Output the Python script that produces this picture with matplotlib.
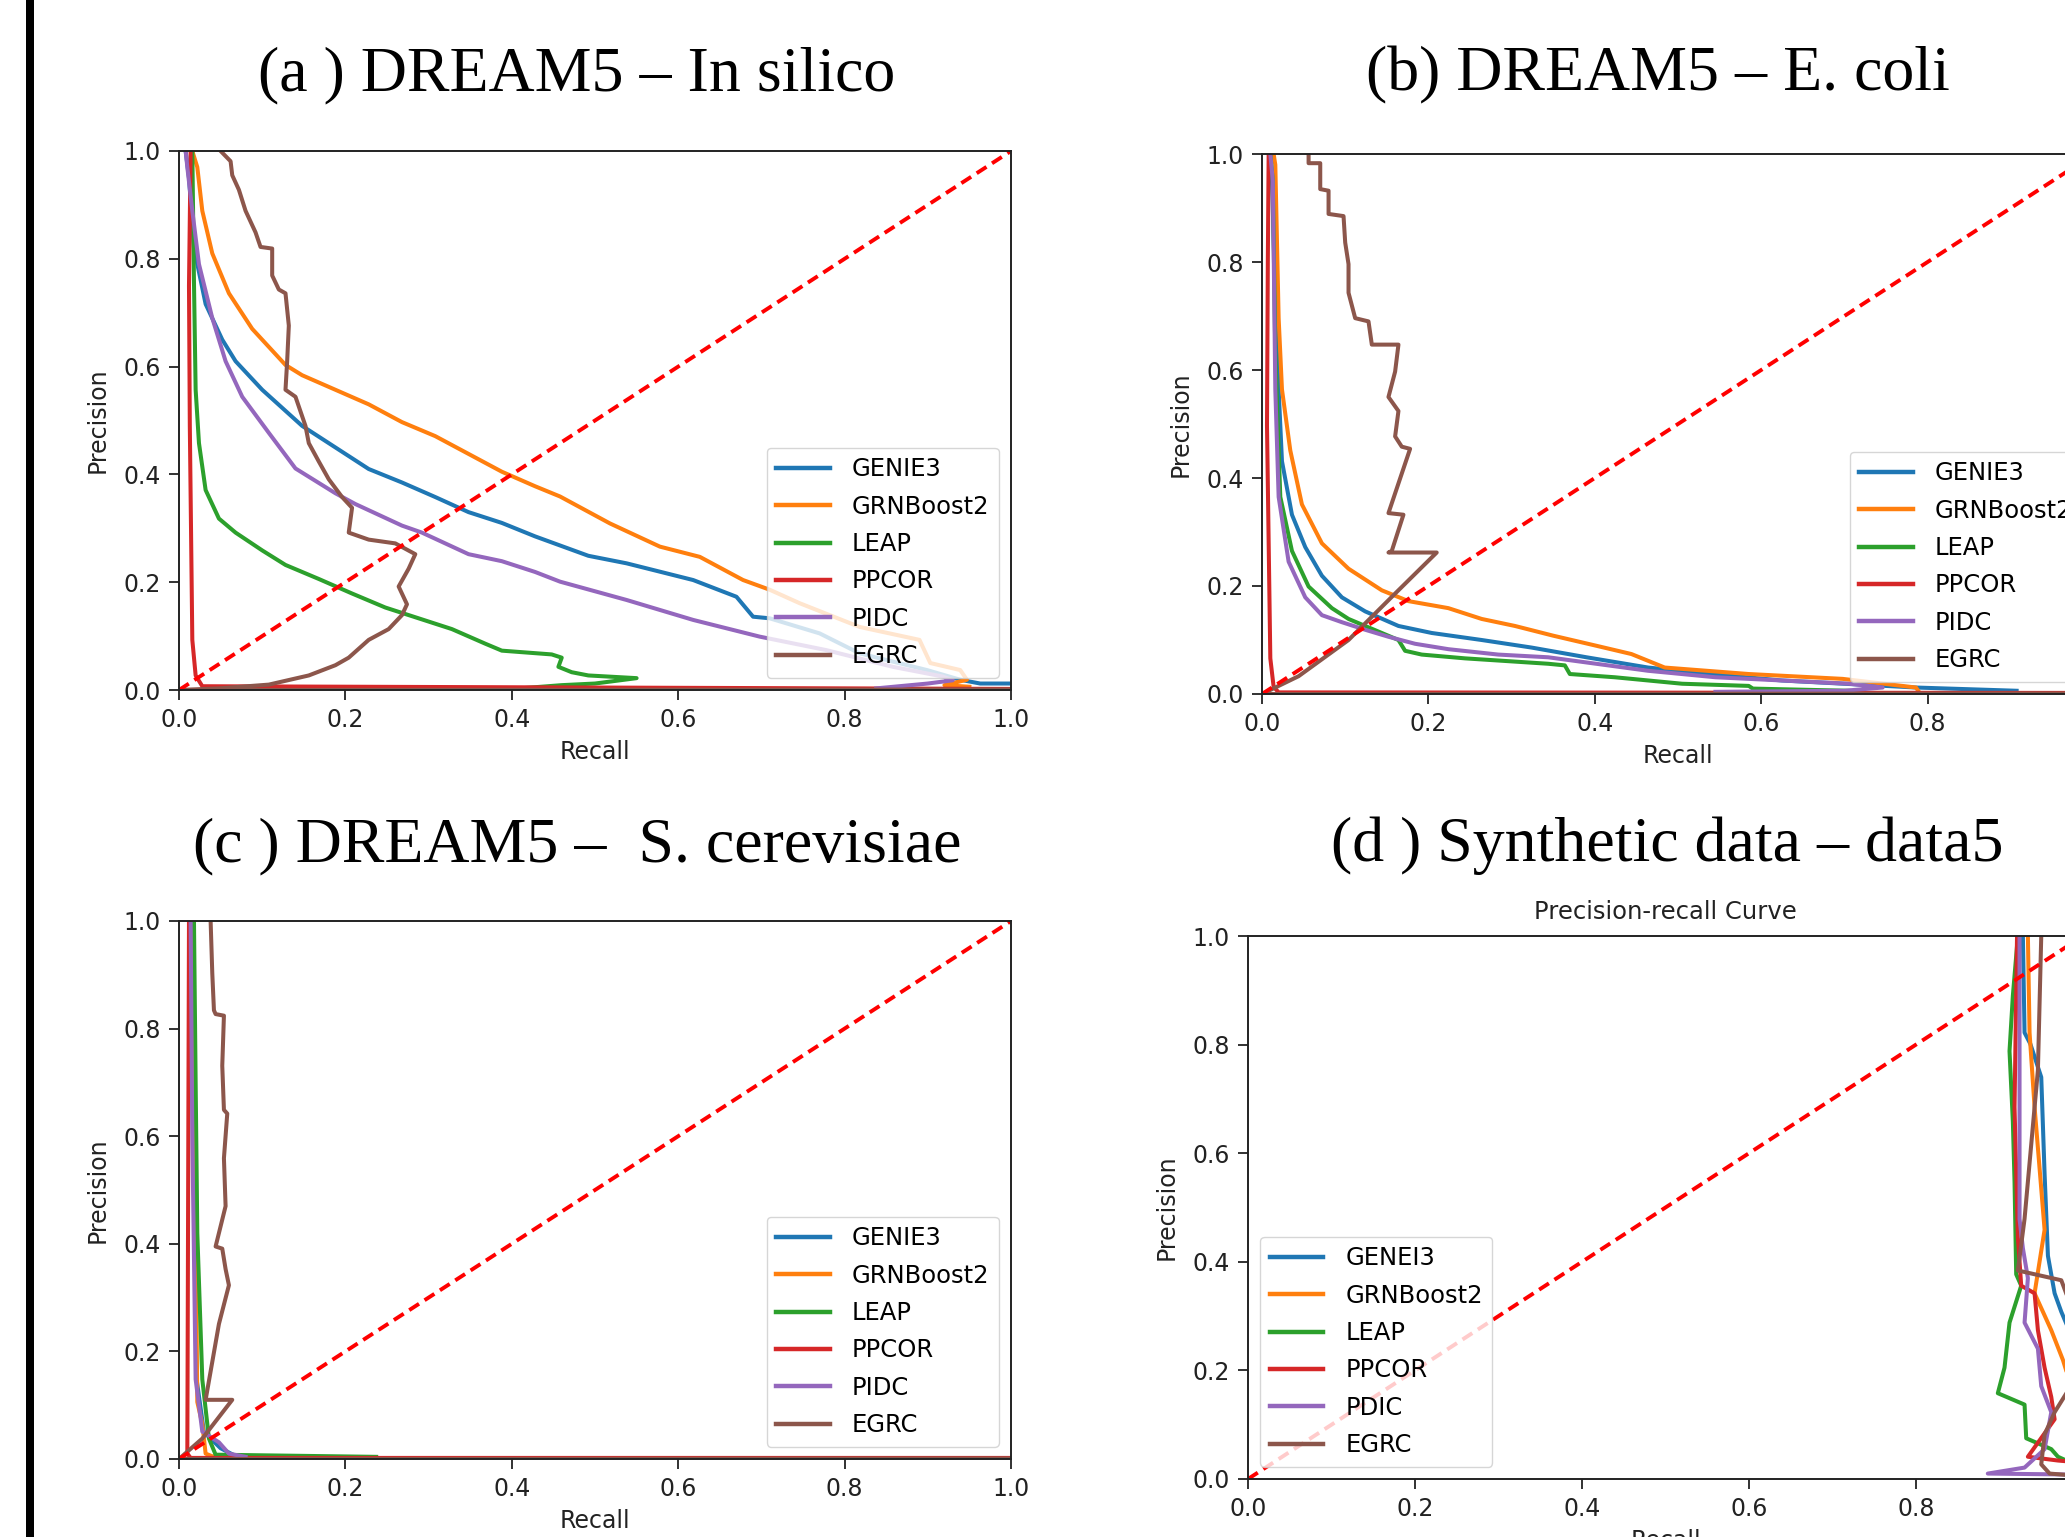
import matplotlib
matplotlib.use("Agg")
import matplotlib.pyplot as plt
from matplotlib.patches import Rectangle

W, H = 2065, 1537

methods = ["GENIE3", "GRNBoost2", "LEAP", "PPCOR", "PIDC", "EGRC"]
methods_d = ["GENEI3", "GRNBoost2", "LEAP", "PPCOR", "PDIC", "EGRC"]
colors = ["tab:blue", "tab:orange", "tab:green", "tab:red", "tab:purple", "tab:brown"]

titles = ["(a ) DREAM5 \u2013 In silico", "(b) DREAM5 \u2013 E. coli",
          "(c ) DREAM5 \u2013  S. cerevisiae", "(d ) Synthetic data \u2013 data5"]

# ---- (a) DREAM5 in silico: (recall, precision) ----
a_genie3 = ([0.008, 0.012, 0.018, 0.032, 0.052, 0.068, 0.10, 0.148, 0.188, 0.228, 0.268, 0.308, 0.348,
             0.388, 0.428, 0.492, 0.538, 0.618, 0.67, 0.69, 0.71, 0.77, 0.818, 0.899, 0.939, 0.963, 1.0],
            [1.0, 0.95, 0.82, 0.716, 0.65, 0.61, 0.557, 0.49, 0.45, 0.41, 0.385, 0.358, 0.33,
             0.31, 0.285, 0.249, 0.235, 0.204, 0.173, 0.136, 0.133, 0.105, 0.068, 0.037, 0.019, 0.012, 0.012])
a_grnboost2 = ([0.016, 0.022, 0.028, 0.04, 0.06, 0.088, 0.128, 0.148, 0.188, 0.228, 0.268, 0.308, 0.348,
                0.388, 0.428, 0.458, 0.518, 0.578, 0.626, 0.678, 0.71, 0.746, 0.818, 0.89, 0.903, 0.939,
                0.947, 0.92, 0.95],
               [1.0, 0.97, 0.889, 0.81, 0.736, 0.67, 0.603, 0.584, 0.557, 0.53, 0.497, 0.471, 0.438,
                0.405, 0.378, 0.359, 0.309, 0.266, 0.247, 0.204, 0.186, 0.161, 0.117, 0.093, 0.05, 0.037,
                0.019, 0.009, 0.006])
a_leap = ([0.016, 0.018, 0.02, 0.024, 0.032, 0.048, 0.068, 0.10, 0.128, 0.168, 0.208, 0.248, 0.288, 0.328,
           0.368, 0.388, 0.448, 0.46, 0.456, 0.472, 0.492, 0.55, 0.50, 0.46, 0.41],
          [1.0, 0.756, 0.557, 0.458, 0.371, 0.318, 0.292, 0.259, 0.232, 0.206, 0.179, 0.153, 0.133, 0.113,
           0.086, 0.073, 0.066, 0.06, 0.043, 0.033, 0.027, 0.022, 0.012, 0.009, 0.003])
a_ppcor = ([0.014, 0.012, 0.013, 0.016, 0.02, 0.028, 1.0],
           [1.0, 0.75, 0.49, 0.093, 0.027, 0.007, 0.002])
a_pidc = ([0.008, 0.01, 0.016, 0.024, 0.04, 0.056, 0.076, 0.108, 0.14, 0.188, 0.212, 0.268, 0.292, 0.348,
           0.388, 0.428, 0.458, 0.538, 0.618, 0.698, 0.778, 0.858, 0.918, 0.93, 0.90, 0.838],
          [1.0, 0.97, 0.889, 0.79, 0.69, 0.61, 0.544, 0.477, 0.411, 0.365, 0.345, 0.305, 0.292, 0.252,
           0.239, 0.219, 0.201, 0.167, 0.13, 0.099, 0.074, 0.043, 0.025, 0.018, 0.012, 0.003])
a_egrc = ([0.05, 0.062, 0.064, 0.072, 0.08, 0.092, 0.098, 0.112, 0.112, 0.12, 0.128, 0.132, 0.13, 0.128,
           0.14, 0.152, 0.156, 0.168, 0.18, 0.196, 0.208, 0.204, 0.228, 0.26, 0.284, 0.276, 0.264, 0.274,
           0.268, 0.252, 0.228, 0.204, 0.188, 0.156, 0.108, 0.048, 0.0, 1.0],
          [1.0, 0.981, 0.955, 0.928, 0.889, 0.849, 0.822, 0.819, 0.769, 0.743, 0.736, 0.676, 0.61, 0.557,
           0.544, 0.49, 0.458, 0.424, 0.391, 0.358, 0.338, 0.292, 0.279, 0.272, 0.252, 0.225, 0.192, 0.159,
           0.139, 0.113, 0.093, 0.06, 0.046, 0.027, 0.01, 0.003, 0.0, 0.001])

# ---- (b) DREAM5 E. coli ----
b_genie3 = ([0.01, 0.012, 0.018, 0.024, 0.036, 0.052, 0.072, 0.096, 0.124, 0.164, 0.204, 0.264, 0.324,
             0.39, 0.464, 0.54, 0.625, 0.786, 0.907],
            [1.0, 0.95, 0.63, 0.431, 0.332, 0.272, 0.219, 0.179, 0.153, 0.126, 0.113, 0.1, 0.086,
             0.068, 0.049, 0.037, 0.025, 0.012, 0.006])
b_grnboost2 = ([0.014, 0.016, 0.02, 0.024, 0.034, 0.048, 0.072, 0.104, 0.144, 0.176, 0.224, 0.264, 0.304,
                0.35, 0.40, 0.444, 0.484, 0.585, 0.698, 0.786, 0.79],
               [1.0, 0.98, 0.696, 0.564, 0.451, 0.351, 0.279, 0.232, 0.192, 0.172, 0.159, 0.139, 0.126,
                0.108, 0.09, 0.074, 0.049, 0.037, 0.028, 0.012, 0.003])
b_leap = ([0.01, 0.013, 0.016, 0.022, 0.036, 0.056, 0.084, 0.104, 0.144, 0.164, 0.172, 0.192, 0.244, 0.304,
           0.344, 0.364, 0.37, 0.424, 0.505, 0.585, 0.59, 0.706],
          [1.0, 0.95, 0.63, 0.365, 0.265, 0.199, 0.159, 0.139, 0.113, 0.1, 0.08, 0.073, 0.066, 0.06,
           0.056, 0.053, 0.037, 0.031, 0.019, 0.015, 0.01, 0.006])
b_ppcor = ([0.008, 0.007, 0.006, 0.01, 0.014, 0.02, 1.0],
           [1.0, 0.8, 0.497, 0.066, 0.013, 0.003, 0.002])
b_pidc = ([0.01, 0.013, 0.016, 0.02, 0.032, 0.052, 0.072, 0.096, 0.124, 0.152, 0.184, 0.224, 0.284, 0.344,
           0.464, 0.545, 0.706, 0.746, 0.70, 0.545],
          [1.0, 0.95, 0.564, 0.365, 0.245, 0.179, 0.146, 0.133, 0.119, 0.106, 0.093, 0.083, 0.073, 0.068,
           0.043, 0.031, 0.019, 0.012, 0.006, 0.004])
b_egrc = ([0.056, 0.056, 0.07, 0.07, 0.08, 0.08, 0.098, 0.1, 0.104, 0.104, 0.112, 0.128, 0.132, 0.164, 0.16,
           0.152, 0.164, 0.16, 0.168, 0.178, 0.152, 0.17, 0.156, 0.152, 0.21, 0.16, 0.104, 0.044, 0.0, 1.0],
          [1.0, 0.983, 0.983, 0.935, 0.932, 0.889, 0.885, 0.836, 0.796, 0.743, 0.696, 0.69, 0.647, 0.647,
           0.597, 0.55, 0.524, 0.477, 0.458, 0.454, 0.335, 0.332, 0.265, 0.262, 0.262, 0.186, 0.1, 0.033,
           0.0, 0.001])

# ---- (c) DREAM5 S. cerevisiae ----
c_genie3 = ([0.015, 0.017, 0.021, 0.03, 0.05, 0.07], [1.0, 0.6, 0.15, 0.05, 0.02, 0.004])
c_grnboost2 = ([0.017, 0.019, 0.022, 0.028, 0.032, 0.04, 0.14], [1.0, 0.6, 0.106, 0.065, 0.01, 0.005, 0.004])
c_leap = ([0.018, 0.02, 0.022, 0.028, 0.036, 0.044, 0.237], [1.0, 0.7, 0.42, 0.148, 0.038, 0.008, 0.004])
c_ppcor = ([0.012, 0.011, 0.01, 0.014, 1.0], [1.0, 0.5, 0.01, 0.002, 0.002])
c_pidc = ([0.014, 0.016, 0.02, 0.028, 0.048, 0.06, 0.08], [1.0, 0.6, 0.148, 0.051, 0.031, 0.01, 0.004])
c_egrc = ([0.038, 0.04, 0.042, 0.044, 0.054, 0.052, 0.054, 0.058, 0.054, 0.056, 0.044, 0.052, 0.056, 0.06,
           0.048, 0.032, 0.064, 0.028, 0.0, 1.0],
          [1.0, 0.903, 0.834, 0.827, 0.824, 0.731, 0.649, 0.642, 0.559, 0.47, 0.395, 0.391, 0.353, 0.323,
           0.251, 0.11, 0.11, 0.038, 0.0, 0.001])

# ---- (d) synthetic data5 ----
d_genie3 = ([0.928, 0.930, 0.937, 0.950, 0.954, 0.958, 0.966, 0.974, 0.99, 1.0],
            [1.0, 0.822, 0.801, 0.74, 0.562, 0.411, 0.342, 0.308, 0.25, 0.1])
d_grnboost2 = ([0.934, 0.936, 0.942, 0.954, 0.942, 0.962, 0.976, 1.0],
               [1.0, 0.822, 0.685, 0.459, 0.342, 0.274, 0.219, 0.1])
d_leap = ([0.922, 0.916, 0.912, 0.916, 0.918, 0.920, 0.926, 0.912, 0.906, 0.898, 0.930, 0.932, 0.962,
           0.970, 0.98, 1.0],
          [1.0, 0.89, 0.788, 0.658, 0.548, 0.377, 0.356, 0.288, 0.205, 0.158, 0.137, 0.075, 0.055,
           0.041, 0.034, 0.03])
d_ppcor = ([0.921, 0.918, 0.922, 0.926, 0.942, 0.946, 0.954, 0.962, 0.966, 0.934, 0.970, 1.0],
           [1.0, 0.685, 0.445, 0.356, 0.342, 0.274, 0.205, 0.151, 0.11, 0.041, 0.034, 0.03])
d_pidc = ([0.924, 0.924, 0.928, 0.934, 0.930, 0.946, 0.950, 0.962, 0.954, 0.930, 0.886, 1.0],
          [1.0, 0.479, 0.425, 0.37, 0.288, 0.24, 0.171, 0.123, 0.055, 0.021, 0.01, 0.008])
d_egrc = ([0.950, 0.946, 0.930, 0.922, 0.974, 0.99, 0.985, 0.966, 0.954, 0.950, 0.96, 1.0],
          [1.0, 0.753, 0.479, 0.384, 0.366, 0.3, 0.17, 0.123, 0.082, 0.027, 0.01, 0.005])

panel_curves = [
    [a_genie3, a_grnboost2, a_leap, a_ppcor, a_pidc, a_egrc],
    [b_genie3, b_grnboost2, b_leap, b_ppcor, b_pidc, b_egrc],
    [c_genie3, c_grnboost2, c_leap, c_ppcor, c_pidc, c_egrc],
    [d_genie3, d_grnboost2, d_leap, d_ppcor, d_pidc, d_egrc],
]

plt.rcParams['font.family'] = 'DejaVu Sans'
fig = plt.figure(figsize=(W / 100, H / 100), dpi=100)


def place(left, top, right, bottom):
    return fig.add_axes([left / W, 1 - bottom / H, (right - left) / W, (bottom - top) / H])


# pixel boxes of the four plots (b and d run past the right edge)
boxes = [(179, 151, 1011, 690), (1262, 154, 2094, 694), (179, 921, 1011, 1459), (1248, 936, 2083, 1479)]
title_pos = [(577, 90), (1658, 90), (577, 861), (1667, 861)]

for i in range(4):
    ax = place(*boxes[i])
    labels = methods_d if i == 3 else methods
    for curve, lab, col in zip(panel_curves[i], labels, colors):
        ax.plot(curve[0], curve[1], color=col, lw=2.9, label=lab)
    ax.plot([0, 1], [0, 1], color='red', lw=2.8, ls='--', dashes=(3.0, 1.7))
    ax.set_xlim(0, 1)
    ax.set_ylim(0, 1)
    ax.set_xticks([0, 0.2, 0.4, 0.6, 0.8, 1.0])
    ax.set_yticks([0, 0.2, 0.4, 0.6, 0.8, 1.0])
    ax.tick_params(labelsize=17, length=7, width=1.3, pad=6, colors='#222222')
    for sp in ax.spines.values():
        sp.set_linewidth(1.4)
        sp.set_color('#222222')
    ax.set_xlabel('Recall', fontsize=17, labelpad=6, color='#222222')
    ax.set_ylabel('Precision', fontsize=17, labelpad=10, color='#222222')
    leg = ax.legend(loc='lower left' if i == 3 else 'lower right', fontsize=17.5,
                    labelspacing=0.55, borderpad=0.4, handlelength=2.2, handletextpad=0.9)
    for ln in leg.get_lines():
        ln.set_linewidth(3.2)
    if i == 3:
        ax.set_title('Precision-recall Curve', fontsize=17.5, pad=12, color='#222222')
    fig.text(title_pos[i][0] / W, 1 - title_pos[i][1] / H, titles[i], ha='center', va='baseline',
             fontsize=46, family='Liberation Serif')

# black bar on the left edge
fig.patches.append(Rectangle((26 / W, 0), 8 / W, 1, transform=fig.transFigure,
                             facecolor='black', edgecolor='none'))

fig.savefig('out.png', dpi=100)
